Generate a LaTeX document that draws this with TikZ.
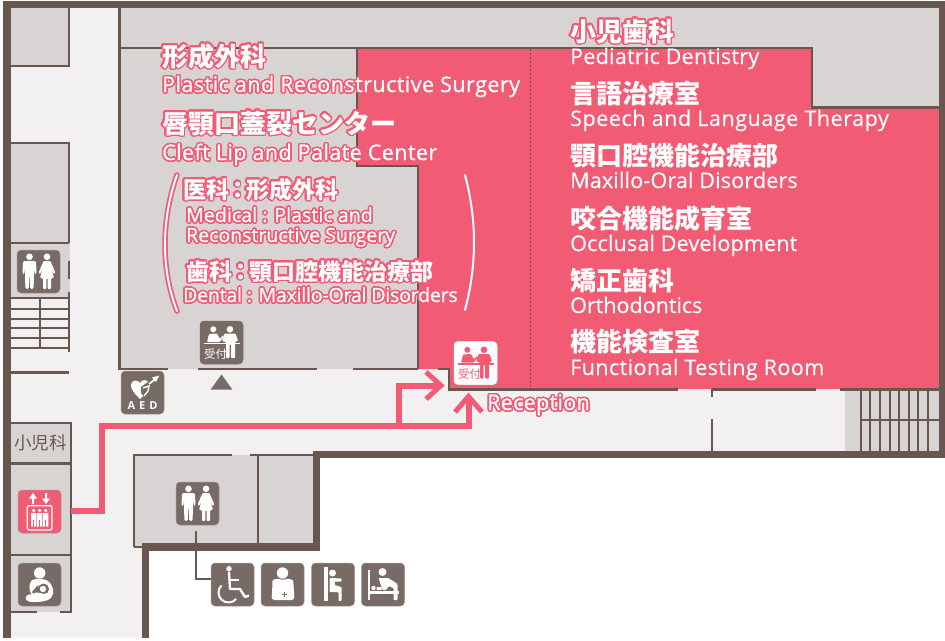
\documentclass[tikz,border=0pt]{standalone}
\usepackage{fontspec}
\usepackage[copies]{contour}
\setmainfont{Open Sans}
\newfontfamily\la{Open Sans}[FakeBold=0.9]
\newfontfamily\lb{Open Sans}[FakeBold=0.3]
\newfontfamily\jp{Noto Sans CJK JP}
\contourlength{1.5pt}
\contournumber{24}
\definecolor{wall}{HTML}{68564F}
\definecolor{room}{HTML}{D9D4D4}
\definecolor{hall}{HTML}{F2F0F1}
\definecolor{pk}{HTML}{F25B74}
\definecolor{ico}{HTML}{786B66}
\newcommand\hl[1]{\contour{pk}{#1}}
\newcommand\cln{\makebox[17pt]{：}}
\tikzset{
 x=1pt,y=-1pt,
 lbl/.style={inner sep=0pt,anchor=base west,text=white},
 jpa/.style={lbl,font=\jp\bfseries\fontsize{26}{26}\selectfont},
 jpb/.style={lbl,font=\jp\bfseries\fontsize{23}{23}\selectfont},
 ena/.style={lbl,font=\lb\fontsize{21.5}{22}\selectfont\addfontfeature{LetterSpace=#1}},
 enh/.style={lbl,font=\la\fontsize{21.5}{22}\selectfont\addfontfeature{LetterSpace=#1}},
 enb/.style={lbl,font=\la\fontsize{19.5}{20}\selectfont\addfontfeature{LetterSpace=#1}},
 wl/.style={wall,line width=2.4pt},
 thick wall/.style={fill=wall,draw=none},
 icobox/.style={fill=ico,rounded corners=4pt,draw=ico!70!white,line width=.5pt},
 wh/.style={fill=white,draw=none},
 route/.style={draw=pk,line width=6pt},
 head/.style={draw=pk,line width=5pt,line cap=square},
}
\newcommand\bx[3][ico]{\path[icobox,fill=#1] (#2,#3) rectangle ++(43,43);}
\newcommand\man[3]{\fill[wh,shift={(#1,#2)},scale=#3] (0,-6.2) circle (3.3)
  (-6.5,-2) [rounded corners=1.5pt] -- (6.5,-2) -- (7,11) -- (5,11) -- (4.4,1.5) -- (4.2,26) -- (.6,26) -- (.4,13) -- (-.4,13) -- (-.6,26) -- (-4.2,26) -- (-4.4,1.5) -- (-5,11) -- (-7,11) -- cycle;}
\newcommand\woman[3]{\fill[wh,shift={(#1,#2)},scale=#3] (0,-6.2) circle (3.3)
  (-3.5,-2) [rounded corners=1pt] -- (3.5,-2) -- (8.5,10) -- (6.8,11) -- (4,4) -- (7,15) -- (4,15) -- (4,26) -- (.7,26) -- (.7,15) -- (-.7,15) -- (-.7,26) -- (-4,26) -- (-4,15) -- (-7,15) -- (-4,4) -- (-6.8,11) -- (-8.5,10) -- cycle;}
\newcommand\restroom[2]{\begin{scope}[shift={(#1,#2)}]\bx{0}{0}\man{12.5}{13}{1}\woman{30}{13}{1}\end{scope}}
\newcommand\recep[4]{\begin{scope}[shift={(#1,#2)}]
 \path[icobox,fill=#3,draw=#3] (0,0) rectangle (43,43);
 \fill[#4] (13.3,8.3) circle (3) (30,8.3) circle (3.3);
 \fill[#4,rounded corners=1pt] (7,21) -- (9,13) -- (17,12.5) -- (20,18) -- (23,14) -- (24,15) -- (20,21) -- cycle;
 \fill[#4,rounded corners=1pt] (22,20) -- (24.5,12.5) -- (35.5,12.5) -- (38,20) -- (35,21) -- (35,37) -- (31,37) -- (31,23) -- (29.5,23) -- (29.5,37) -- (26,37) -- (26,21) -- cycle;
 \fill[#4] (4,21.6) rectangle (40,23.2);
 \node[name=#1r#2,inner sep=0pt,anchor=base west,text=#4,font=\jp\fontsize{11.5}{12}\selectfont] at (3.8,37.3) {受付};
 \end{scope}}
\begin{document}
\begin{tikzpicture}
\useasboundingbox (0,0) rectangle (945,640);
\fill[white] (0,0) rectangle (945,640);
% hall
\fill[hall] (4,4) -- (942,4) -- (942,454) -- (316,454) -- (316,546) -- (145,546) -- (145,637.5) -- (4,637.5) -- cycle;
% rooms
\fill[room] (8,8) rectangle (69,66);
\fill[room] (120,8) rectangle (940,48);
\fill[room] (812,48) rectangle (940,108);
\fill[room] (8,143) rectangle (69,243);
\fill[room] (8,243) rectangle (70,298);
\fill[room] (120,48) rectangle (418,369);
\fill[room] (11,423) rectangle (71,612);
\fill[room] (134,455) rectangle (316,547);
\fill[room] (845,389) rectangle (940,451);
% pink
\fill[pk] (357,48) -- (812,48) -- (812,107) -- (940,107) -- (940,389) -- (449,389) -- (449,369) -- (418,369) -- (418,166) -- (357,166) -- cycle;
% dotted line
\draw[wall,line width=1.3pt,dash pattern=on 2pt off 2pt] (530.5,49) -- (530.5,388);
% outer walls
\fill[thick wall] (3,1) rectangle (945,8.3);
\fill[thick wall] (3,1) rectangle (11,637.5);
\fill[thick wall] (939,1) rectangle (945,458);
\fill[thick wall] (313,450.5) rectangle (945,458);
\fill[thick wall] (313,450.5) rectangle (320,550.5);
\fill[thick wall] (142,543) rectangle (320,550.5);
\fill[thick wall] (142,543) rectangle (149,637.5);
% thin walls
\draw[wl] (11,66) -- (69,66) -- (69,8);
\draw[wl] (11,143) -- (69,143) -- (69,243);
\draw[wl] (11,243) -- (69,243);
\draw[wl] (69,261) -- (69,279);
\draw[wl] (69,292) -- (69,352);
\draw[wl] (11,298) -- (69,298);
\foreach \ya/\yb in {300/308,310/318,320/327,329/337,339/347}{\fill[hall] (11,\ya) rectangle (39,\yb) (41,\ya) rectangle (67.5,\yb);}
\draw[wl] (11,309) -- (69,309) (11,319) -- (69,319) (11,328) -- (69,328) (11,338) -- (69,338) (11,348) -- (69,348) (40,298) -- (40,348);
\draw[wl] (11,372.5) -- (69,372.5);
\draw[wl] (119.5,8) -- (119.5,370);
\draw[wl] (119.5,48) -- (812,48) -- (812,107.5) -- (939,107.5);
\draw[wl] (357,48) -- (357,166) -- (418,166) -- (418,369);
\draw[wl] (119,369) -- (168,369) (198,369) -- (317,369) (353,369) -- (418,369);
\draw[wl] (438,369) -- (449,369) -- (449,389.5) -- (678,389.5) (712,389.5) -- (816,389.5) (840,389.5) -- (939,389.5);
\draw[wl] (712,389) -- (712,397) (712,419) -- (712,451);
\foreach \xx in {860.5,870,880,889.5,899,908.5,918,928}{\draw[wall,line width=2pt] (\xx,390) -- (\xx,451);}
\draw[wall,line width=2pt] (860,420) -- (939,420);
% left lower rooms
\draw[wl] (11,423) -- (71,423) -- (71,612) -- (60,612) (37,612) -- (11,612) (11,463.5) -- (71,463.5) (11,555) -- (71,555);
% restroom block
\draw[wl] (134,547) -- (134,455) -- (232,455) (250,455) -- (314,455) (134,547) -- (142,547);
\draw[wl] (258,455) -- (258,544);
% icons
\coordinate (tp) at (196,531); \coordinate (tq) at (196,579); \coordinate (tr) at (211,579);
\draw[wall,line width=1.5pt] (tp) -- (tq) -- (tr);
\restroom{17}{250}
\restroom{176}{482}
% elevator
\begin{scope}[shift={(18,490)}]
 \bx[pk]{0}{0}
 \fill[wh] (15,3) -- (19,8.5) -- (16,8.5) -- (16,14) -- (14,14) -- (14,8.5) -- (11,8.5) -- cycle;
 \fill[wh] (28,14) -- (32,8.5) -- (29,8.5) -- (29,3) -- (27,3) -- (27,8.5) -- (24,8.5) -- cycle;
 \draw[white,line width=1.3pt,rounded corners=2pt] (9.3,15.7) rectangle (34,40);
 \foreach \xx in {15.7,21.7,27.7}{\fill[wh] (\xx,20.5) circle (1.8) (\xx-2.6,23) rectangle (\xx+2.6,36.5);\fill[pk] (\xx-.3,30) rectangle (\xx+.3,36.5);}
\end{scope}
% nursing
\begin{scope}[shift={(18,563)}]
 \bx{0}{0}
 \fill[wh] (21.7,10) circle (5.7);
 \fill[wh] (14,17) .. controls (19,15.5) and (26,15.5) .. (29,17.5) .. controls (36,22) and (37,30) .. (33,35) .. controls (29,39) and (20,39) .. (14,39) .. controls (10,39) and (7,37) .. (8,34) .. controls (9,31) and (13,31) .. (14,32) .. controls (10,26) and (11,21) .. (14,17) -- cycle;
 \fill[ico] (25.5,26) circle (5.5);
 \fill[ico] (14,29) -- (20,22) -- (24,33) -- (18,33) -- cycle;
 \fill[wh] (25,26) circle (3.2);
 \fill[wh] (15,31) .. controls (18,28) and (22,30) .. (25,31) -- (30,30) -- (25,34.5) .. controls (21,35) and (17,34) .. (15,31) -- cycle;
\end{scope}
% AED
\begin{scope}[shift={(121,371)}]
 \bx{0}{0}
 \fill[wh] (19,28) .. controls (13,22) and (10,19) .. (10,14) .. controls (10,9) and (17,8) .. (19,12) .. controls (21,8) and (27,8) .. (28,13) .. controls (28,19) and (25,23) .. (19,28) -- cycle;
 \fill[ico] (20,16) -- (31,8) -- (31,18) -- (24,27) -- (20,22) -- cycle;
 \draw[white,line width=1.3pt] (22,17) -- (28,15) -- (27,20) -- (23,25) ;
 \draw[white,line width=1.8pt] (28,13) -- (37,6);
 \fill[wh] (31,6.5) -- (38,4.5) -- (35,11) -- cycle;
 \node[name=aedtext,inner sep=0pt,text=white,font=\bfseries\fontsize{11}{11}\selectfont] at (21.5,34.5) {A\hspace{4pt}E\hspace{4pt}D};
\end{scope}
\recep{200}{321}{ico}{white}
\fill[ico] (221.5,374.5) -- (232.3,389.5) -- (210.7,389.5) -- cycle;
\recep{454}{341.5}{white}{pk}
% wheelchair
\begin{scope}[shift={(211,563)}]
 \bx{0}{0}
 \fill[wh] (18,5.7) circle (2.7);
 \draw[white,line width=2.4pt,line join=round] (18,9) -- (19,26) -- (29,26) -- (34,34) -- (38,32.5);
 \draw[white,line width=2.2pt] (18.5,16.7) -- (28,16.7);
 \draw[white,line width=2pt] (10.43,22.43) .. controls (6.41,26.45) and (6.55,33.02) .. (10.74,36.87) .. controls (14.93,40.72) and (21.5,40.29) .. (25.16,35.93);
\end{scope}
% person
\begin{scope}[shift={(261,563)}]
 \bx{0}{0}
 \fill[wh] (21.5,10) circle (5.7);
 \fill[wh,rounded corners=3pt] (11.5,21) .. controls (11.5,16) and (17,15.5) .. (21.5,17.5) .. controls (26,15.5) and (32,16) .. (32.5,21) -- (33.5,37) -- (10.5,37) -- cycle;
 \draw[ico,line width=1pt] (23.5,29) -- (23.5,34) (21,31.5) -- (26,31.5);
\end{scope}
% baby chair
\begin{scope}[shift={(311.5,563)}]
 \bx{0}{0}
 \fill[wh] (12.7,4.3) rectangle (16,38.3);
 \fill[wh] (21,10) circle (3.5);
 \fill[wh,rounded corners=1pt] (18,15) -- (30,15.5) -- (30,18.5) -- (23,18.5) -- (23,22) -- (30,24) -- (30,38) -- (27,38) -- (27,29) -- (18,29) -- cycle;
\end{scope}
% change table
\begin{scope}[shift={(361.5,563)}]
 \bx{0}{0}
 \fill[wh] (6,7) rectangle (8.5,37);
 \fill[wh] (6,28) rectangle (37,30.5);
 \fill[wh] (21,9) circle (4);
 \fill[wh,rounded corners=1pt] (17,15) -- (27,15) -- (36,21) -- (36,37) -- (32,37) -- (32,25) -- (27,23) -- (25,27) -- (21,27) -- cycle;
 \fill[wh] (12,25) circle (2.2) (15,24) rectangle (20,27);
\end{scope}
% route
\coordinate (r0) at (71,510.5);
\coordinate (r1) at (101.5,510.5);
\coordinate (r2) at (101.5,426);
\coordinate (r3) at (399,426);
\coordinate (r4) at (469,426);
\coordinate (r5) at (469,397);
\coordinate (r6) at (399,385.5);
\coordinate (r7) at (441,385.5);
\draw[route] (r0) -- (r1) -- (r2) -- (r4) -- (r5);
\draw[route] (r3) -- (r6) -- (r7);
\draw[head] (426,372) -- (441,385.5) -- (426,399);
\draw[head] (455,412) -- (468.5,396.5) -- (482,412);
% parens
\draw[pk,line width=5.5pt,line cap=round] (177,175) .. controls (161,220) and (161,270) .. (177,311);
\draw[white,line width=2pt,line cap=round] (177,175) .. controls (161,220) and (161,270) .. (177,311);
\draw[white,line width=2pt,line cap=round] (465,175) .. controls (477,220) and (477,265) .. (465,310);
% labels
\node[name=n1,jpa] at (162,66) {\hl{形成外科}};
\node[name=n2,enh=2.2] at (162,92) {\hl{Plastic and Reconstructive Surgery}};
\node[name=n3,jpa] at (162,133) {\hl{唇顎口蓋裂センター}};
\node[name=n4,enh=2] at (162,160) {\hl{Cleft Lip and Palate Center}};
\node[name=n5,jpb] at (183,198) {\hl{医科\cln 形成外科}};
\node[name=n6,enb=0.4] at (186,222) {\hl{Medical : Plastic and}};
\node[name=n7,enb=0] at (186,242) {\hl{Reconstructive Surgery}};
\node[name=n8,jpb] at (186,280) {\hl{歯科\cln 顎口腔機能治療部}};
\node[name=n9,enb=-1] at (183,302) {\hl{Dental : Maxillo-Oral Disorders}};
\node[name=r1t,jpa] at (570,41) {\hl{小児歯科}};
\node[name=r2t,ena=1.2] at (570,64) {Pediatric Dentistry};
\node[name=r3t,jpa] at (570,103) {言語治療室};
\node[name=r4t,ena=2.6] at (570,126) {Speech and Language Therapy};
\node[name=r5t,jpa] at (570,165) {顎口腔機能治療部};
\node[name=r6t,ena=0.85] at (570,188) {Maxillo-Oral Disorders};
\node[name=r7t,jpa] at (570,228) {咬合機能成育室};
\node[name=r8t,ena=0.9] at (570,251) {Occlusal Development};
\node[name=r9t,jpa] at (570,290) {矯正歯科};
\node[name=r10t,ena=0] at (570,313) {Orthodontics};
\node[name=r11t,jpa] at (570,351) {機能検査室};
\node[name=r12t,ena=2] at (570,375) {Functional Testing Room};
\node[name=rc,enh=1.5] at (487,410) {\hl{Reception}};
\node[name=ped,inner sep=0pt,text=wall,font=\jp\fontsize{17.5}{18}\selectfont] at (40.5,443) {小児科};
\end{tikzpicture}
\end{document}
